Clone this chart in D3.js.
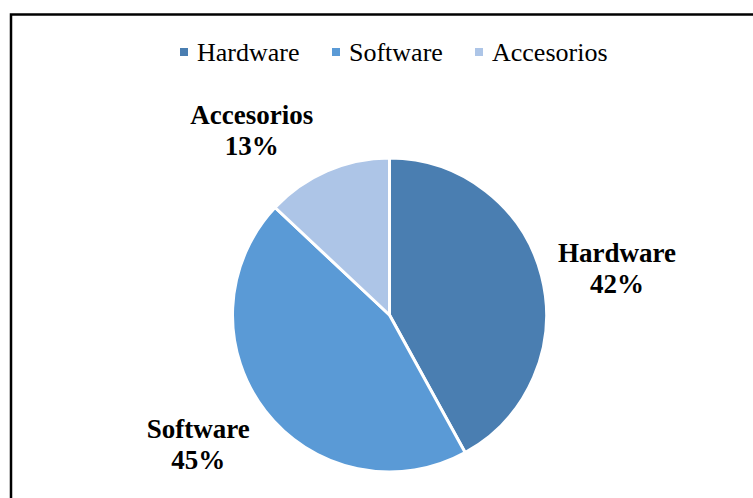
<!DOCTYPE html>
<html>
<head>
<meta charset="utf-8">
<script src="https://cdn.jsdelivr.net/npm/d3@7"></script>
<style>
  html, body { margin: 0; padding: 0; background: #fff; }
  svg { display: block; }
</style>
</head>
<body>
<svg id="chart" width="753" height="498"></svg>
<script>
// Sales share by product line
const categories = ["Hardware", "Software", "Accesorios"];
const values = [42, 45, 13];
const colors = ["#4A7EB1", "#5A9AD6", "#ADC5E7"];

const svg = d3.select("#chart");
const W = 753, H = 498;

// frame
svg.append("rect")
  .attr("x", 11).attr("y", 14.5)
  .attr("width", W).attr("height", H)
  .attr("fill", "#fff")
  .attr("stroke", "#000")
  .attr("stroke-width", 2.5);

const cx = 389.5, cy = 315, r = 157;

const pie = d3.pie().sort(null).value(d => d.value);
const arcs = pie(categories.map((c, i) => ({ name: c, value: values[i] })));
const arc = d3.arc().innerRadius(0).outerRadius(r);

const g = svg.append("g").attr("transform", `translate(${cx},${cy})`);
g.selectAll("path")
  .data(arcs)
  .join("path")
  .attr("d", arc)
  .attr("fill", (d, i) => colors[i])
  .attr("stroke", "#fff")
  .attr("stroke-width", 3)
  .attr("stroke-linejoin", "round");

// data labels outside the pie, nudged from the slice centroid direction
const total = d3.sum(values);
const labelArc = d3.arc().innerRadius(r * 1.47).outerRadius(r * 1.47);
const labelNudge = [[4, 4], [-9, -18], [-46, 21]];
const labels = svg.append("g").attr("transform", `translate(${cx},${cy})`);
const lbl = labels.selectAll("text")
  .data(arcs)
  .join("text")
  .attr("text-anchor", "middle")
  .attr("font-family", "'Liberation Serif', 'Times New Roman', serif")
  .attr("font-weight", "bold")
  .attr("font-size", 27)
  .attr("fill", "#000")
  .attr("transform", (d, i) => {
    const c = labelArc.centroid(d);
    return `translate(${c[0] + labelNudge[i][0]},${c[1] + labelNudge[i][1]})`;
  });
lbl.append("tspan").attr("x", 0).attr("y", 0).text(d => d.data.name);
lbl.append("tspan").attr("x", 0).attr("y", 31)
  .text(d => Math.round(d.data.value / total * 100) + "%");

// legend
const legendX = [180, 332, 475];
const legend = svg.append("g");
const items = legend.selectAll("g")
  .data(categories)
  .join("g")
  .attr("transform", (d, i) => `translate(${legendX[i]},0)`);
items.append("rect")
  .attr("x", 0).attr("y", 48)
  .attr("width", 8).attr("height", 8)
  .attr("fill", (d, i) => colors[i]);
items.append("text")
  .attr("x", 17).attr("y", 61)
  .attr("font-family", "'Liberation Serif', 'Times New Roman', serif")
  .attr("font-size", 26)
  .attr("fill", "#000")
  .text(d => d);
</script>
</body>
</html>
